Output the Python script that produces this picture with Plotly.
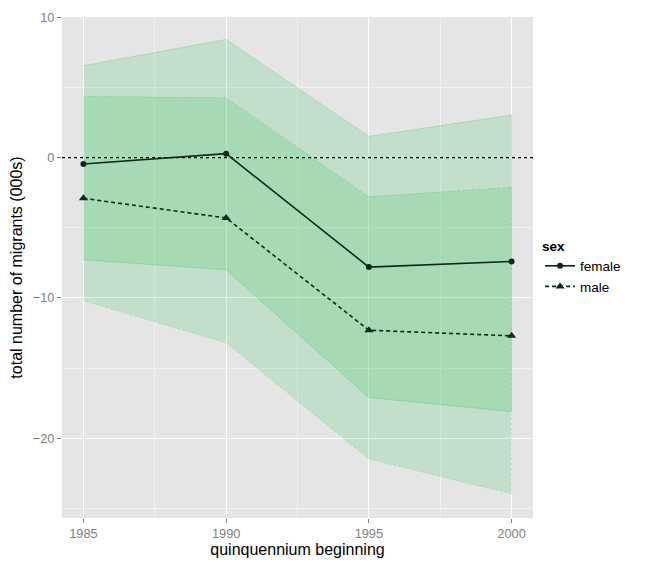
import plotly.graph_objects as go

years = [1985, 1990, 1995, 2000]
sexes = ["female", "male"]
female_mean = [-0.45, 0.28, -7.8, -7.4]
male_mean = [-2.9, -4.3, -12.3, -12.7]
female_upper = [6.55, 8.42, 1.51, 3.03]
female_lower = [-7.28, -7.99, -17.1, -18.1]
male_upper = [4.37, 4.26, -2.79, -2.1]
male_lower = [-10.19, -13.2, -21.47, -23.95]

x_tick_labels = ["1985", "1990", "1995", "2000"]
y_ticks = [-20, -10, 0, 10]
y_tick_labels = ["\u221220", "\u221210", "0", "10"]

FILL = "rgba(2,189,56,0.15)"
EDGE = "rgba(2,189,56,0.22)"
LINE = "#0E2A17"
FONT = "Liberation Sans, Arial, sans-serif"

fig = go.Figure()

bands = [
    (female_upper, female_lower, "solid", "female"),
    (male_upper, male_lower, "3px,2px", "male"),
]
for up, lo, dash, name in bands:
    fig.add_trace(go.Scatter(
        x=years + years[::-1], y=up + lo[::-1],
        fill="toself", fillcolor=FILL, mode="lines",
        line=dict(color=EDGE, width=1, dash=dash),
        showlegend=False, hoverinfo="skip", legendgroup=name,
    ))

# zero reference line
x_range = [1984.25, 2000.75]
fig.add_trace(go.Scatter(
    x=x_range, y=[0, 0], mode="lines",
    line=dict(color="black", width=1.3, dash="dot"),
    showlegend=False, hoverinfo="skip",
))

fig.add_trace(go.Scatter(
    x=years, y=female_mean, mode="lines+markers", name="female",
    line=dict(color=LINE, width=1.6, dash="solid"),
    marker=dict(symbol="circle", size=6, color=LINE), legendgroup="female",
))
fig.add_trace(go.Scatter(
    x=years, y=male_mean, mode="lines+markers", name="male",
    line=dict(color=LINE, width=1.6, dash="4px,3px"),
    marker=dict(symbol="triangle-up", size=8, color=LINE), legendgroup="male",
))

fig.update_layout(
    width=650, height=567,
    margin=dict(l=54, r=125, t=9, b=57, autoexpand=False),
    paper_bgcolor="white", plot_bgcolor="#E5E5E5",
    font=dict(family=FONT, size=12, color="black"),
    legend=dict(
        title=dict(text="<b>sex</b>", font=dict(size=13.5, family=FONT)),
        x=1.015, xanchor="left", y=0.5, yanchor="middle",
        font=dict(size=13.5, family=FONT), bgcolor="rgba(0,0,0,0)",
        tracegroupgap=0, itemwidth=30,
    ),
)
fig.update_xaxes(
    automargin=False,
    range=x_range, tickvals=years, ticktext=x_tick_labels,
    showgrid=True, gridcolor="white", gridwidth=1.2,
    minor=dict(dtick=2.5, tick0=1985, showgrid=True, gridcolor="#F2F2F2", gridwidth=0.6),
    zeroline=False, showline=False,
    ticks="outside", ticklen=4, tickcolor="#7F7F7F", tickwidth=1,
    tickfont=dict(size=12.8, color="#7F7F7F", family=FONT),
    title=dict(text="quinquennium beginning", font=dict(size=16, family=FONT), standoff=3),
)
fig.update_yaxes(
    automargin=False,
    range=[-25.68, 10.02], tickvals=y_ticks, ticktext=y_tick_labels,
    showgrid=True, gridcolor="white", gridwidth=1.2,
    minor=dict(dtick=5, tick0=0, showgrid=True, gridcolor="#F2F2F2", gridwidth=0.6),
    zeroline=False, showline=False,
    ticks="outside", ticklen=4, tickcolor="#7F7F7F", tickwidth=1,
    tickfont=dict(size=12.8, color="#7F7F7F", family=FONT),
    title=dict(text="total number of migrants (000s)", font=dict(size=16, family=FONT), standoff=8),
)

fig.write_html("out.html")
